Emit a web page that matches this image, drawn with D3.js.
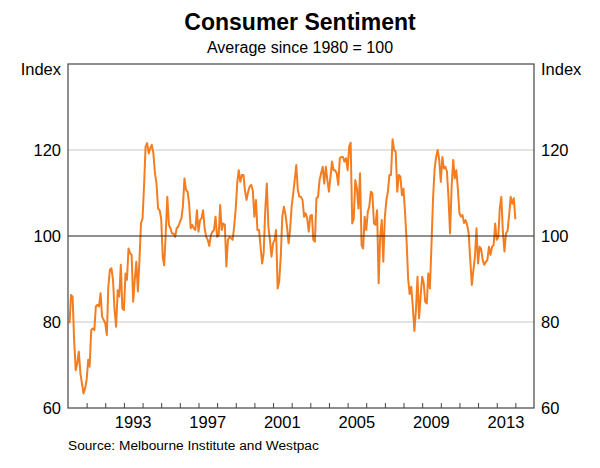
<!DOCTYPE html>
<html><head><meta charset="utf-8">
<script src="https://cdn.jsdelivr.net/npm/d3@7"></script>
<style>
body{margin:0;background:#fff}
svg{display:block}
text{font-family:"Liberation Sans",Arial,sans-serif;fill:#000}
</style>
</head><body>
<svg id="chart" width="600" height="468"></svg>
<script>
const chartTitle = "Consumer Sentiment";
const chartSubtitle = "Average since 1980 = 100";
const unitLabel = "Index";
const sourceNote = "Source: Melbourne Institute and Westpac";

const firstMonth = "1990-02";
const yTicks = [60, 80, 100, 120];
const yDomain = [60, 140];
const gridValues = [80, 120];
const baseline = 100;
const axisYears = [1990, 2015];
const labelYears = [1993, 1997, 2001, 2005, 2009, 2013];

// Monthly index values, Feb 1990 - Dec 1999
const sentiment1990s = [
  79.7, 86.3, 85.9, 75.8, 68.8, 70.4, 73.1, 68.1, 65.7, 63.4, 64.5,
  66.5, 71.2, 69.6, 78.1, 78.5, 78.1, 83.6, 84.0, 83.6, 86.7, 81.2, 80.5,
  79.7, 77.0, 88.2, 92.1, 92.5, 89.8, 82.8, 78.9, 87.4, 85.9, 93.3, 83.2,
  82.8, 91.3, 89.8, 97.1, 96.0, 95.6, 84.7, 89.8, 94.0, 87.1, 94.4, 102.9,
  104.1, 112.2, 120.8, 121.6, 119.2, 120.4, 121.2, 119.2, 114.6, 112.2, 106.4, 106.0,
  104.0, 95.0, 93.2, 101.0, 109.1, 102.6, 101.8, 100.6, 100.6, 99.8, 101.8, 102.2,
  103.2, 104.1, 106.8, 113.4, 110.7, 110.3, 107.6, 101.8, 102.6, 101.8, 101.4, 106.0,
  101.0, 103.7, 104.1, 106.0, 101.8, 99.8, 99.1, 97.7, 100.2, 101.0, 101.4, 104.5,
  99.8, 100.2, 107.2, 101.4, 102.9, 102.6, 92.9, 99.1, 99.8, 99.5, 99.1, 102.2,
  106.4, 112.6, 115.3, 112.6, 114.2, 114.2, 110.5, 108.4, 110.3, 111.5, 111.9, 110.5
];
// Monthly index values, Jan 2000 - Dec 2009
const sentiment2000s = [
  104.5, 108.4, 101.4, 101.4, 97.5, 93.6, 96.0, 106.0, 112.2, 102.2, 99.1, 95.2,
  98.3, 99.1, 101.4, 87.8, 89.4, 95.2, 104.5, 106.8, 105.0, 102.2, 98.3, 101.5,
  107.0, 110.0, 113.0, 116.5, 110.7, 109.1, 109.1, 108.4, 104.5, 105.3, 104.1, 101.0,
  104.7, 104.9, 99.1, 98.7, 108.8, 109.1, 113.0, 114.6, 116.1, 112.2, 116.1, 113.0,
  110.3, 113.8, 117.3, 115.3, 115.3, 114.6, 111.9, 118.1, 118.4, 118.4, 117.3, 118.1,
  115.3, 120.8, 121.7, 102.9, 104.1, 113.0, 111.1, 106.4, 114.6, 97.9, 97.1, 104.5,
  101.4, 105.7, 106.8, 110.3, 109.9, 102.9, 102.6, 106.0, 89.0, 99.8, 103.7, 94.0,
  104.5, 108.4, 110.3, 114.2, 114.2, 122.5, 120.0, 119.6, 110.3, 114.2, 113.8, 109.5,
  111.0, 105.3, 99.1, 90.0, 86.5, 88.2, 83.6, 77.9, 82.8, 90.5, 80.9, 85.9,
  90.5, 89.0, 84.7, 84.3, 91.3, 87.8, 97.5, 108.5, 115.5, 118.4, 120.0, 117.7
];
// Monthly index values, Jan 2010 - Jan 2014
const sentiment2010s = [
  112.6, 118.4, 115.7, 116.1, 115.0, 108.8, 100.6, 111.5, 117.7, 113.4, 115.3, 111.0,
  105.3, 104.5, 104.9, 103.0, 103.7, 102.6, 100.6, 94.4, 88.6, 92.0, 95.2, 101.8,
  93.6, 97.5, 97.0, 94.4, 93.3, 94.0, 94.4, 97.5, 95.6, 97.5, 97.9, 102.9,
  99.1, 99.8, 106.4, 109.1, 101.0, 96.4, 100.6, 101.2, 104.9, 109.1, 107.5, 108.8,
  103.9
];

const values = sentiment1990s.concat(sentiment2000s, sentiment2010s);
const start = d3.timeParse("%Y-%m")(firstMonth);
const series = values.map((v, i) => ({date: d3.timeMonth.offset(start, i), value: v}));

const W = 600, H = 468;
const plot = {left: 68, right: 534, top: 64, bottom: 408};
const svg = d3.select("#chart");
const labelSize = "16.5px";

const x = d3.scaleTime()
  .domain([new Date(axisYears[0], 0, 1), new Date(axisYears[1], 0, 1)])
  .range([plot.left, plot.right]);
const y = d3.scaleLinear().domain(yDomain).range([plot.bottom, plot.top]);

// titles
svg.append("text").attr("x", W / 2).attr("y", 30).attr("text-anchor", "middle")
  .style("font-size", "23px").style("font-weight", "bold").text(chartTitle);
svg.append("text").attr("x", W / 2).attr("y", 53).attr("text-anchor", "middle")
  .style("font-size", "16px").text(chartSubtitle);

// grid lines
svg.append("g").selectAll("line").data(gridValues).join("line")
  .attr("x1", plot.left).attr("x2", plot.right)
  .attr("y1", d => y(d)).attr("y2", d => y(d))
  .attr("stroke", "#c8c8c8").attr("stroke-width", 1.2);

// x ticks (yearly, inside from bottom)
const tickYears = d3.timeYear.range(new Date(axisYears[0] + 1, 0, 1), new Date(axisYears[1], 0, 1));
const xAxis = svg.append("g").attr("transform", `translate(0,${plot.bottom})`)
  .call(d3.axisBottom(x).tickValues(tickYears).tickSize(-5).tickFormat(""));
xAxis.select(".domain").remove();
xAxis.selectAll(".tick line").attr("stroke", "#444").attr("stroke-width", 1);

// x labels centred in the year
svg.append("g").selectAll("text").data(labelYears).join("text")
  .attr("x", d => x(new Date(d, 6, 1)))
  .attr("y", plot.bottom + 20)
  .attr("text-anchor", "middle").style("font-size", labelSize)
  .text(d => d);

// y axes labels
const yl = svg.append("g").attr("transform", `translate(${plot.left},0)`)
  .call(d3.axisLeft(y).tickValues(yTicks).tickSize(0).tickPadding(7));
yl.select(".domain").remove();
yl.selectAll("text").style("font-size", labelSize).style("font-family", "Liberation Sans, Arial, sans-serif").attr("fill", "#000");
const yr = svg.append("g").attr("transform", `translate(${plot.right},0)`)
  .call(d3.axisRight(y).tickValues(yTicks).tickSize(0).tickPadding(7));
yr.select(".domain").remove();
yr.selectAll("text").style("font-size", labelSize).style("font-family", "Liberation Sans, Arial, sans-serif").attr("fill", "#000");

svg.append("text").attr("x", plot.left - 7).attr("y", y(yDomain[1]) + 11)
  .attr("text-anchor", "end").style("font-size", labelSize).text(unitLabel);
svg.append("text").attr("x", plot.right + 7).attr("y", y(yDomain[1]) + 11)
  .attr("text-anchor", "start").style("font-size", labelSize).text(unitLabel);

// data line
svg.append("path").datum(series)
  .attr("fill", "none").attr("stroke", "#f47d20").attr("stroke-width", 2)
  .attr("stroke-linejoin", "round")
  .attr("d", d3.line().x(d => x(d.date)).y(d => y(d.value)));

// baseline at 100
svg.append("line").attr("x1", plot.left).attr("x2", plot.right)
  .attr("y1", y(baseline)).attr("y2", y(baseline))
  .attr("stroke", "#222").attr("stroke-width", 1.2);

// frame
svg.append("rect").attr("x", plot.left).attr("y", plot.top)
  .attr("width", plot.right - plot.left).attr("height", plot.bottom - plot.top)
  .attr("fill", "none").attr("stroke", "#444").attr("stroke-width", 1.2);

// source
svg.append("text").attr("x", plot.left).attr("y", 450).style("font-size", "13.7px").text(sourceNote);
</script>
</body></html>
